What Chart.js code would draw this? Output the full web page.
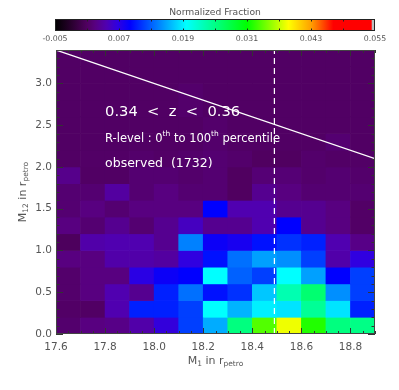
<!DOCTYPE html>
<html>
<head>
<meta charset="utf-8">
<script src="https://cdn.jsdelivr.net/npm/chart.js@4.4.0/dist/chart.umd.min.js"></script>
<style>
  html, body { margin: 0; padding: 0; background: #fff; }
  #wrap { position: relative; width: 399px; height: 390px; }
  #wrap canvas { position: absolute; left: 0; top: 0; }
</style>
</head>
<body>
<div id="wrap">
  <canvas id="main" width="399" height="390"></canvas>
  <canvas id="cbar" width="399" height="48"></canvas>
</div>
<script>
// bin edges of the 2D histogram
const xEdges = [17.6, 17.7, 17.8, 17.9, 18.0, 18.1, 18.2, 18.3, 18.4, 18.5, 18.6, 18.7, 18.8, 18.9];
const yEdges = [0.0, 0.2, 0.4, 0.6, 0.8, 1.0, 1.2, 1.4, 1.6, 1.8, 2.0, 2.2, 2.4, 2.6, 2.8, 3.0, 3.2, 3.4];
const xTicks = [17.6, 17.8, 18.0, 18.2, 18.4, 18.6, 18.8];
const yTicks = [0.0, 0.5, 1.0, 1.5, 2.0, 2.5, 3.0];
const cbarTicks = [-0.005, 0.007, 0.019, 0.031, 0.043, 0.055];

// normalized fraction per cell, first row = bottom (M12 0.0 - 0.2)
const fraction = [
  [0.0016, 0.0025, 0.0028, 0.0043, 0.0065, 0.0117, 0.0162, 0.0253, 0.0335, 0.0383, 0.0320, 0.0253, 0.0250],
  [0.0013, 0.0012, 0.0046, 0.0104, 0.0104, 0.0117, 0.0196, 0.0165, 0.0190, 0.0185, 0.0243, 0.0185, 0.0104],
  [0.0015, 0.0025, 0.0046, 0.0032, 0.0104, 0.0137, 0.0098, 0.0111, 0.0173, 0.0231, 0.0260, 0.0150, 0.0117],
  [0.0015, 0.0025, 0.0025, 0.0070, 0.0085, 0.0091, 0.0196, 0.0131, 0.0117, 0.0196, 0.0157, 0.0091, 0.0117],
  [0.0025, 0.0025, 0.0043, 0.0043, 0.0039, 0.0067, 0.0098, 0.0137, 0.0157, 0.0150, 0.0117, 0.0043, 0.0067],
  [0.0008, 0.0043, 0.0046, 0.0046, 0.0032, 0.0144, 0.0085, 0.0079, 0.0098, 0.0111, 0.0104, 0.0046, 0.0028],
  [0.0025, 0.0018, 0.0032, 0.0018, 0.0032, 0.0053, 0.0032, 0.0032, 0.0046, 0.0091, 0.0032, 0.0025, 0.0013],
  [0.0018, 0.0025, 0.0018, 0.0025, 0.0025, 0.0025, 0.0091, 0.0046, 0.0046, 0.0032, 0.0032, 0.0025, 0.0013],
  [0.0018, 0.0018, 0.0039, 0.0018, 0.0025, 0.0018, 0.0018, 0.0010, 0.0032, 0.0025, 0.0018, 0.0018, 0.0018],
  [0.0030, 0.0012, 0.0012, 0.0018, 0.0018, 0.0015, 0.0018, 0.0010, 0.0020, 0.0020, 0.0015, 0.0018, 0.0015],
  [0.0012, 0.0013, 0.0013, 0.0015, 0.0013, 0.0015, 0.0018, 0.0015, 0.0010, 0.0010, 0.0015, 0.0013, 0.0013],
  [0.0012, 0.0012, 0.0012, 0.0012, 0.0012, 0.0012, 0.0015, 0.0012, 0.0012, 0.0012, 0.0012, 0.0018, 0.0012],
  [0.0012, 0.0012, 0.0012, 0.0012, 0.0012, 0.0012, 0.0015, 0.0012, 0.0012, 0.0012, 0.0012, 0.0012, 0.0012],
  [0.0012, 0.0012, 0.0012, 0.0012, 0.0012, 0.0015, 0.0012, 0.0012, 0.0012, 0.0012, 0.0012, 0.0012, 0.0012],
  [0.0012, 0.0012, 0.0012, 0.0012, 0.0012, 0.0015, 0.0012, 0.0012, 0.0012, 0.0012, 0.0012, 0.0012, 0.0012],
  [0.0012, 0.0012, 0.0012, 0.0012, 0.0012, 0.0012, 0.0012, 0.0012, 0.0012, 0.0012, 0.0012, 0.0012, 0.0012],
  [0.0012, 0.0012, 0.0012, 0.0012, 0.0012, 0.0012, 0.0012, 0.0012, 0.0012, 0.0012, 0.0012, 0.0012, 0.0012]
];

// white cut line and dashed limit
const cutX = [17.6, 18.9];
const cutY = [3.4, 2.1];
const limitX = 18.49;

const vMin = -0.005, vMax = 0.055;
const FONT = '"DejaVu Sans", sans-serif';
const AXIS_GRAY = '#555';

// rainbow + black colour table
const stops = [
  [0.000, [0, 0, 0]],
  [0.050, [40, 0, 45]],
  [0.100, [80, 0, 96]],
  [0.125, [88, 0, 128]],
  [0.160, [80, 0, 176]],
  [0.195, [48, 0, 224]],
  [0.235, [0, 0, 255]],
  [0.410, [0, 255, 255]],
  [0.600, [0, 255, 0]],
  [0.730, [255, 255, 0]],
  [0.800, [255, 160, 0]],
  [0.870, [255, 0, 0]],
  [0.988, [255, 0, 0]],
  [0.992, [190, 190, 190]],
  [1.000, [190, 190, 190]]
];

function colorFor(v) {
  let t = (v - vMin) / (vMax - vMin);
  t = Math.max(0, Math.min(1, t));
  for (let i = 1; i < stops.length; i++) {
    if (t <= stops[i][0]) {
      const a = stops[i - 1], b = stops[i];
      const f = (t - a[0]) / (b[0] - a[0]);
      const c = a[1].map((ch, k) => Math.round(ch + (b[1][k] - ch) * f));
      return 'rgb(' + c.join(',') + ')';
    }
  }
  return 'rgb(190,190,190)';
}

let cells = [];
for (let i = 0; i < fraction.length; i++) {
  for (let j = 0; j < fraction[i].length; j++) {
    cells.push({
      x: (xEdges[j] + xEdges[j + 1]) / 2,
      y: [yEdges[i], yEdges[i + 1]],
      v: fraction[i][j]
    });
  }
}

// draw text made of pieces (sub/superscripts)
function drawPieces(ctx, x, y, pieces) {
  let cx = x;
  pieces.forEach(p => {
    ctx.font = p.size + 'px ' + FONT;
    ctx.fillText(p.t, cx, y + (p.dy || 0));
    cx += ctx.measureText(p.t).width;
  });
  return cx - x;
}
function piecesWidth(ctx, pieces) {
  let w = 0;
  pieces.forEach(p => { ctx.font = p.size + 'px ' + FONT; w += ctx.measureText(p.t).width; });
  return w;
}

const framePlugin = {
  id: 'frame',
  afterDatasetsDraw(chart) {
    const ctx = chart.ctx, a = chart.chartArea;
    const xs = chart.scales.x, ys = chart.scales.y;
    ctx.save();
    ctx.strokeStyle = '#333';
    ctx.lineWidth = 1;
    ctx.beginPath();
    // x ticks, bottom and top
    for (let k = 0; k <= 26; k++) {
      const v = xEdges[0] + k * 0.05;
      const px = Math.round(xs.getPixelForValue(v)) + 0.5;
      const len = (k % 4 === 0) ? 6 : 3;
      ctx.moveTo(px, a.bottom); ctx.lineTo(px, a.bottom - len);
      ctx.moveTo(px, a.top); ctx.lineTo(px, a.top + len);
    }
    // y ticks, left and right
    for (let k = 0; k <= 34; k++) {
      const v = k * 0.1;
      const py = Math.round(ys.getPixelForValue(v)) + 0.5;
      const len = (k % 5 === 0) ? 7 : 3.5;
      ctx.moveTo(a.left, py); ctx.lineTo(a.left + len, py);
      ctx.moveTo(a.right, py); ctx.lineTo(a.right - len, py);
    }
    ctx.stroke();
    ctx.strokeStyle = '#444';
    ctx.strokeRect(a.left + 0.5, a.top + 0.5, a.right - a.left - 1, a.bottom - a.top - 1);

    // annotations in white
    ctx.fillStyle = '#fff';
    ctx.textBaseline = 'middle';
    ctx.textAlign = 'left';
    const tx = xs.getPixelForValue(17.8);
    drawPieces(ctx, tx, ys.getPixelForValue(2.65), [{t: '0.34  <  z  <  0.36', size: 14.7}]);
    drawPieces(ctx, tx, ys.getPixelForValue(2.34), [
      {t: 'R-level : 0', size: 11.5}, {t: 'th', size: 7.5, dy: -4},
      {t: ' to 100', size: 11.5}, {t: 'th', size: 7.5, dy: -4},
      {t: ' percentile', size: 11.5}
    ]);
    drawPieces(ctx, tx, ys.getPixelForValue(2.04), [{t: 'observed  (1732)', size: 12.5}]);

    // axis titles
    ctx.fillStyle = AXIS_GRAY;
    const xt = [{t: 'M', size: 11}, {t: '1', size: 7.5, dy: 3}, {t: ' in r', size: 11}, {t: 'petro', size: 7.5, dy: 3}];
    const wx = piecesWidth(ctx, xt);
    drawPieces(ctx, (a.left + a.right) / 2 - wx / 2, 361, xt);
    const yt = [{t: 'M', size: 11}, {t: '12', size: 7.5, dy: 3}, {t: ' in r', size: 11}, {t: 'petro', size: 7.5, dy: 3}];
    const wy = piecesWidth(ctx, yt);
    ctx.translate(23, (a.top + a.bottom) / 2);
    ctx.rotate(-Math.PI / 2);
    drawPieces(ctx, -wy / 2, 0, yt);
    ctx.restore();
  }
};

new Chart(document.getElementById('main'), {
  type: 'bar',
  data: {
    datasets: [
      {
        type: 'line',
        data: cutX.map((x, i) => ({x: x, y: cutY[i]})),
        borderColor: '#fff', borderWidth: 1.2, pointRadius: 0, order: 0
      },
      {
        type: 'line',
        data: [{x: limitX, y: yEdges[0]}, {x: limitX, y: yEdges[yEdges.length - 1]}],
        borderColor: '#fff', borderWidth: 1.2, borderDash: [6, 4], pointRadius: 0, order: 0
      },
      {
        type: 'bar',
        data: cells,
        backgroundColor: ctx => colorFor(ctx.raw ? ctx.raw.v : 0),
        borderWidth: 0,
        barPercentage: 1,
        categoryPercentage: 1,
        grouped: false,
        order: 1
      }
    ]
  },
  options: {
    responsive: false,
    animation: false,
    layout: {padding: {left: 0, right: 24, top: 50, bottom: 0}},
    plugins: {legend: {display: false}, tooltip: {enabled: false}},
    scales: {
      x: {
        type: 'linear', min: 17.6, max: 18.9, offset: false,
        afterFit(s) { s.height = 56; },
        afterBuildTicks(s) { s.ticks = xTicks.map(v => ({value: v})); },
        grid: {display: false, drawTicks: false},
        border: {display: false},
        ticks: {
          autoSkip: false, maxRotation: 0, padding: 7,
          color: AXIS_GRAY, font: {family: FONT, size: 10.5},
          callback: v => v.toFixed(1)
        }
      },
      y: {
        type: 'linear', min: 0, max: 3.4,
        afterFit(s) { s.width = 56; },
        afterBuildTicks(s) { s.ticks = yTicks.map(v => ({value: v})); },
        grid: {display: false, drawTicks: false},
        border: {display: false},
        ticks: {
          autoSkip: false, padding: 4,
          color: AXIS_GRAY, font: {family: FONT, size: 10.5},
          callback: v => v.toFixed(1)
        }
      }
    }
  },
  plugins: [framePlugin]
});

const cbarPlugin = {
  id: 'cbarFill',
  beforeDatasetsDraw(chart) {
    const ctx = chart.ctx, a = chart.chartArea, xs = chart.scales.x;
    ctx.save();
    const g = ctx.createLinearGradient(a.left, 0, a.right, 0);
    stops.forEach(s => g.addColorStop(s[0], colorFor(vMin + s[0] * (vMax - vMin))));
    ctx.fillStyle = g;
    ctx.fillRect(a.left, a.top, a.right - a.left, a.bottom - a.top);
    ctx.strokeStyle = '#222';
    ctx.lineWidth = 1;
    ctx.strokeRect(a.left + 0.5, a.top + 0.5, a.right - a.left - 1, a.bottom - a.top - 1);
    ctx.beginPath();
    for (let k = 1; k < 10; k++) {
      const px = Math.round(xs.getPixelForValue(vMin + k * 0.006)) + 0.5;
      ctx.moveTo(px, a.top); ctx.lineTo(px, a.top + 2.5);
      ctx.moveTo(px, a.bottom); ctx.lineTo(px, a.bottom - 2.5);
    }
    ctx.stroke();
    ctx.fillStyle = AXIS_GRAY;
    ctx.font = '9.2px ' + FONT;
    ctx.textAlign = 'center';
    ctx.textBaseline = 'middle';
    ctx.fillText('Normalized Fraction', (a.left + a.right) / 2, 13);
    ctx.restore();
  }
};

new Chart(document.getElementById('cbar'), {
  type: 'scatter',
  data: {datasets: [{data: []}]},
  options: {
    responsive: false,
    animation: false,
    layout: {padding: {left: 55, right: 24, top: 19, bottom: 0}},
    plugins: {legend: {display: false}, tooltip: {enabled: false}},
    scales: {
      x: {
        type: 'linear', min: vMin, max: vMax,
        afterFit(s) { s.height = 17; },
        afterBuildTicks(s) { s.ticks = cbarTicks.map(v => ({value: v})); },
        grid: {display: false, drawTicks: false},
        border: {display: false},
        ticks: {
          autoSkip: false, maxRotation: 0, padding: 3,
          color: AXIS_GRAY, font: {family: FONT, size: 7.8},
          callback: v => v.toFixed(3)
        }
      },
      y: {display: false, min: 0, max: 1}
    }
  },
  plugins: [cbarPlugin]
});
</script>
</body>
</html>
